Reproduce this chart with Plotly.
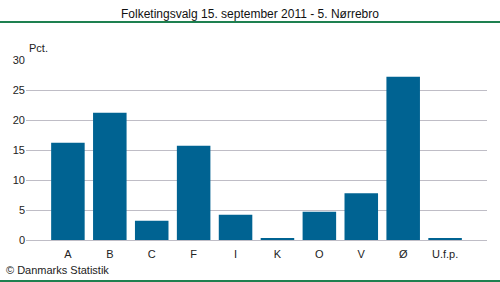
import plotly.graph_objects as go

categories = ["A", "B", "C", "F", "I", "K", "O", "V", "Ø", "U.f.p."]
values = [16.2, 21.2, 3.2, 15.7, 4.2, 0.3, 4.7, 7.8, 27.2, 0.2]
y_ticks = [0, 5, 10, 15, 20, 25, 30]

FONT = "Liberation Sans, Arial, sans-serif"

fig = go.Figure(go.Bar(
    x=list(range(len(categories))), y=values,
    marker=dict(color="#006392", line=dict(width=0)),
    width=0.8,
))

fig.update_layout(
    width=500, height=282,
    margin=dict(l=26, r=13, t=60, b=42),
    paper_bgcolor="white", plot_bgcolor="white",
    showlegend=False,
    font=dict(family=FONT, size=11, color="#222222"),
    bargap=0.2,
    xaxis=dict(
        range=[-1, 10], tickmode="array",
        tickvals=list(range(len(categories))), ticktext=categories,
        showgrid=False, zeroline=False, showline=False, ticks="",
        tickfont=dict(size=11, color="#222222"),
        ticklabelstandoff=6,
        fixedrange=True,
    ),
    yaxis=dict(
        range=[0, 30], tickmode="array", tickvals=y_ticks,
        ticktext=[str(v) for v in y_ticks],
        showgrid=True, gridcolor="#BFBDC6", gridwidth=1,
        zeroline=True, zerolinecolor="#BFBDC6", zerolinewidth=1,
        showline=False, ticks="", ticklen=0,
        tickfont=dict(size=11, color="#222222"),
        fixedrange=True,
    ),
    shapes=[
        dict(type="line", xref="paper", yref="paper",
             x0=-26/461, x1=1+13/461, y0=1+38/180, y1=1+38/180,
             line=dict(color="#1E8050", width=2)),
        dict(type="line", xref="paper", yref="paper",
             x0=-26/461, x1=1+13/461, y0=-41/180, y1=-41/180,
             line=dict(color="#1E8050", width=2)),
    ],
    annotations=[
        dict(text="Folketingsvalg 15. september 2011 - 5. Nørrebro",
             xref="paper", yref="paper", x=(250-26)/461, y=1+46/180,
             xanchor="center", yanchor="middle", showarrow=False,
             font=dict(size=12, color="#111111")),
        dict(text="Pct.", xref="paper", yref="paper",
             x=(27-26)/461, y=1+12/180, xanchor="left", yanchor="middle",
             showarrow=False, font=dict(size=11, color="#222222")),
        dict(text="© Danmarks Statistik", xref="paper", yref="paper",
             x=-22/461, y=-30/180, xanchor="left", yanchor="middle",
             showarrow=False, font=dict(size=11, color="#222222")),
    ],
)

fig.write_html("out.html")
